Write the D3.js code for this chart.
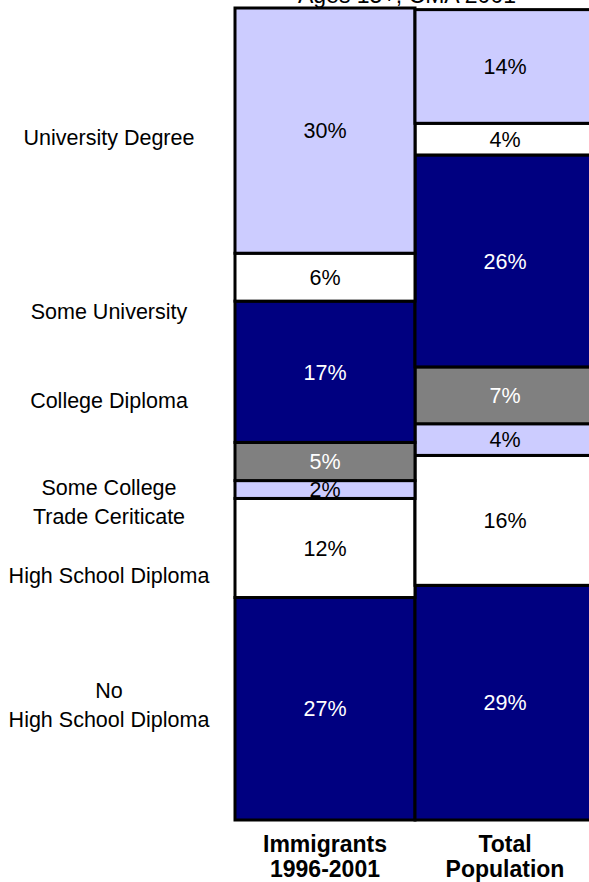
<!DOCTYPE html>
<html>
<head>
<meta charset="utf-8">
<script src="https://cdn.jsdelivr.net/npm/d3@7"></script>
<style>
  html, body { margin: 0; background: #fff; overflow: hidden; }
  svg { display: block; font-family: Arial, "Liberation Sans", sans-serif; }
</style>
</head>
<body>
<div id="chart"></div>
<script>
// data (percent of each group, bottom to top)
var categories = ["Immigrants 1996-2001", "Total Population"];
var levels = ["No High School Diploma", "High School Diploma", "Trade Ceriticate",
              "Some College", "College Diploma", "Some University", "University Degree"];
var immigrants = [27.4, 12.2, 2.2, 4.7, 17.4, 5.9, 30.2];
var totalPop   = [28.9, 16.0, 3.9, 7.0, 26.1, 3.9, 14.0];
var title = "Ages 15+, CMA 2001";

// left side labels, each with the level (in %) where it sits
var sideLabels = [
    {text: "University Degree", at: 84.1},
    {text: "Some University", at: 62.6},
    {text: "College Diploma", at: 51.7},
    {text: "Some College", at: 41.0},
    {text: "Trade Ceriticate", at: 37.4},
    {text: "High School Diploma", at: 30.1},
    {text: "No", at: 16.0},
    {text: "High School Diploma", at: 12.4}
];

var width = 589, height = 882;
var fills = ["#000080", "#ffffff", "#ccccff", "#808080", "#000080", "#ffffff", "#ccccff"];
var textCol = ["#fff", "#000", "#000", "#fff", "#fff", "#000", "#000"];

var svg = d3.select("#chart").append("svg")
    .attr("width", width)
    .attr("height", height);

// build table for the stack
var series = [immigrants, totalPop];
var table = categories.map(function(c, i) {
    var row = {category: c};
    levels.forEach(function(l, j) { row[l] = series[i][j]; });
    return row;
});

var stack = d3.stack().keys(levels);
var stacked = stack(table);

// second bar runs past the right edge, as in the original
var x = d3.scaleBand().domain(categories).range([235, 595]).padding(0);
var y = d3.scaleLinear().domain([0, 100]).range([820, 8]);
var last = categories[categories.length - 1];

var layers = svg.selectAll("g.layer")
    .data(stacked)
    .enter().append("g")
    .attr("class", "layer")
    .attr("fill", function(d, i) { return fills[i]; });

// the last bar is cut by the page edge, so its right side is pushed out of view
layers.selectAll("rect")
    .data(function(d) { return d; })
    .enter().append("rect")
    .attr("x", function(d) { return x(d.data.category); })
    .attr("y", function(d) { return y(d[1]); })
    .attr("width", function(d) { return x.bandwidth() + (d.data.category === last ? 30 : 0); })
    .attr("height", function(d) { return y(d[0]) - y(d[1]); })
    .attr("stroke", "#000")
    .attr("stroke-width", 3);

// percent labels in the middle of each piece
stacked.forEach(function(layer, i) {
    svg.selectAll(null)
        .data(layer)
        .enter().append("text")
        .attr("x", function(d) { return x(d.data.category) + x.bandwidth() / 2; })
        .attr("y", function(d) { return y((d[0] + d[1]) / 2); })
        .attr("dy", "0.36em")
        .attr("text-anchor", "middle")
        .style("font-size", "21.5px")
        .attr("fill", textCol[i])
        .text(function(d) { return Math.round(d[1] - d[0]) + "%"; });
});

// labels on the left
svg.selectAll("text.side")
    .data(sideLabels)
    .enter().append("text")
    .attr("class", "side")
    .attr("x", 109)
    .attr("y", function(d) { return y(d.at); })
    .attr("dy", "0.36em")
    .attr("text-anchor", "middle")
    .style("font-size", "21.5px")
    .text(function(d) { return d.text; });

// category names under the bars, two lines each
var cat = svg.selectAll("text.cat")
    .data(categories)
    .enter().append("text")
    .attr("class", "cat")
    .attr("text-anchor", "middle")
    .style("font-size", "23px")
    .style("font-weight", "bold");

cat.selectAll("tspan")
    .data(function(d) {
        var parts = d.split(" ");
        return parts.map(function(p) { return {text: p, c: d}; });
    })
    .enter().append("tspan")
    .attr("x", function(d) { return x(d.c) + x.bandwidth() / 2; })
    .attr("y", function(d, i) { return 852 + i * 25; })
    .text(function(d) { return d.text; });

// title, cut off by the top edge like in the original
svg.append("text")
    .attr("x", 407)
    .attr("y", 3)
    .attr("text-anchor", "middle")
    .style("font-size", "23px")
    .text(title);
</script>
</body>
</html>
